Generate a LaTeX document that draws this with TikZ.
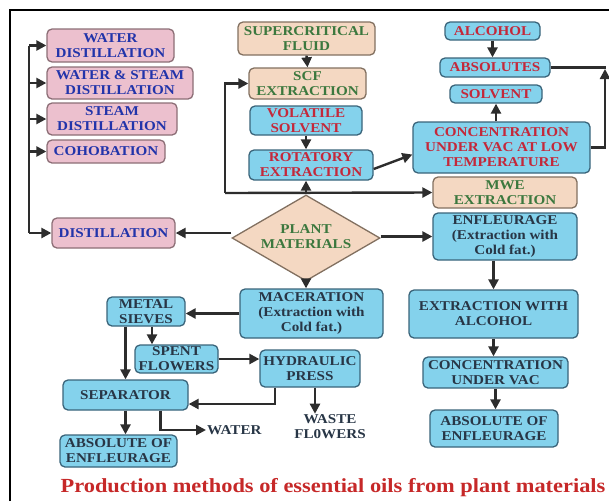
\documentclass[tikz,border=0pt]{standalone}
\usepackage{fontspec}
\setmainfont{Liberation Serif}[FakeStretch=1.12]
\usetikzlibrary{arrows.meta,shapes.geometric}

\definecolor{pinkfill}{RGB}{236,192,206}
\definecolor{pinkline}{RGB}{140,110,118}
\definecolor{bluetext}{RGB}{34,52,170}
\definecolor{tanfill}{RGB}{244,216,194}
\definecolor{tanline}{RGB}{130,112,96}
\definecolor{greentext}{RGB}{60,120,62}
\definecolor{cyanfill}{RGB}{132,210,236}
\definecolor{cyanline}{RGB}{58,100,122}
\definecolor{redtext}{RGB}{196,40,58}
\definecolor{darktext}{RGB}{40,54,70}
\definecolor{capred}{RGB}{198,40,40}
\definecolor{linegray}{RGB}{45,45,45}

\tikzset{
  box/.style={rectangle, rounded corners=5pt, line width=1.3pt, align=center,
    inner sep=1pt, font=\bfseries\fontsize{13.5}{15}\selectfont},
  pinkbox/.style={box, fill=pinkfill, draw=pinkline, text=bluetext},
  tanbox/.style={box, fill=tanfill, draw=tanline, text=greentext},
  redbox/.style={box, fill=cyanfill, draw=cyanline, text=redtext},
  bluebox/.style={box, fill=cyanfill, draw=cyanline, text=darktext},
  plaintext/.style={align=center, inner sep=1pt, text=darktext,
    font=\bfseries\fontsize{13.5}{15}\selectfont},
  ln/.style={line width=2.4pt, draw=linegray},
  arr/.style={ln, -{Triangle[length=10pt,width=10pt]}}
}

\begin{document}
\begin{tikzpicture}[x=1pt,y=-1pt]
	\useasboundingbox (0,0) rectangle (609,501);
	\draw [line width=2pt] (10,501) -- (10,10) -- (609,10);
	
	% distillation side
	\node [pinkbox, minimum width=127pt, minimum height=33pt] (wdist) at (110.5,45.5) {WATER\\DISTILLATION};
	\node [pinkbox, minimum width=146pt, minimum height=32pt] (wsdist) at (120,83) {WATER \& STEAM\\DISTILLATION};
	\node [pinkbox, minimum width=130pt, minimum height=32pt] (sdist) at (112,119) {STEAM\\DISTILLATION};
	\node [pinkbox, minimum width=118pt, minimum height=23pt] (cohob) at (106,151.5) {COHOBATION};
	\node [pinkbox, minimum width=123pt, minimum height=30pt] (dist) at (113.5,233) {DISTILLATION};
	
	% centre column
	\node [tanbox, minimum width=137pt, minimum height=33pt] (scfluid) at (306.5,38.5) {SUPERCRITICAL\\FLUID};
	\node [tanbox, minimum width=117pt, minimum height=31pt] (scfext) at (307.5,83.5) {SCF\\EXTRACTION};
	\node [redbox, minimum width=112pt, minimum height=29pt] (volsolv) at (306,120.5) {VOLATILE\\SOLVENT};
	\node [redbox, minimum width=124pt, minimum height=30pt] (rotat) at (311,165) {ROTATORY\\EXTRACTION};
	\node [diamond, fill=tanfill, draw=tanline, line width=1.3pt, inner sep=0pt,
		minimum width=148pt, minimum height=86pt] (plant) at (306,238) {};
	\node [plaintext, text=greentext] (plantlbl) at (306,237) {PLANT\\MATERIALS};
	
	% right column
	\node [redbox, minimum width=95pt, minimum height=18pt] (alcohol) at (492.5,31) {ALCOHOL};
	\node [redbox, minimum width=110pt, minimum height=19pt] (absol) at (495,67.5) {ABSOLUTES};
	\node [redbox, minimum width=92pt, minimum height=18pt] (solvent) at (496,94) {SOLVENT};
	\node [redbox, minimum width=177pt, minimum height=51pt] (conc) at (501.5,147.5) {CONCENTRATION\\UNDER VAC AT LOW\\TEMPERATURE};
	\node [tanbox, minimum width=144pt, minimum height=31pt] (mwe) at (505,192.5) {MWE\\EXTRACTION};
	\node [bluebox, minimum width=144pt, minimum height=47pt] (enfl) at (505,236.5) {ENFLEURAGE\\(Extraction with\\Cold fat.)};
	\node [bluebox, minimum width=169pt, minimum height=48pt] (extalc) at (493.5,314) {EXTRACTION WITH\\ALCOHOL};
	\node [bluebox, minimum width=145pt, minimum height=31pt] (concvac) at (495.5,372.5) {CONCENTRATION\\UNDER VAC};
	\node [bluebox, minimum width=128pt, minimum height=37pt] (absright) at (494,428.5) {ABSOLUTE OF\\ENFLEURAGE};
	
	% maceration branch
	\node [bluebox, minimum width=143pt, minimum height=49pt] (macer) at (311.5,313.5) {MACERATION\\(Extraction with\\Cold fat.)};
	\node [bluebox, minimum width=78pt, minimum height=29pt] (sieves) at (146,311.5) {METAL\\SIEVES};
	\node [bluebox, minimum width=83pt, minimum height=28pt] (spent) at (176.5,359) {SPENT\\FLOWERS};
	\node [bluebox, minimum width=100pt, minimum height=37pt] (hydra) at (310,368.5) {HYDRAULIC\\PRESS};
	\node [bluebox, minimum width=125pt, minimum height=30pt] (separ) at (125.5,395) {SEPARATOR};
	\node [bluebox, minimum width=117pt, minimum height=32pt] (absleft) at (118.5,451) {ABSOLUTE OF\\ENFLEURAGE};
	\node [plaintext, anchor=west] (water) at (206,430) {WATER};
	\node [plaintext] (waste) at (330,427) {WASTE\\FL0WERS};
	
	\node [text=capred, inner sep=0pt, font=\bfseries\fontsize{20}{22}\selectfont] (caption) at (333,488)
		{Production methods of essential oils from plant materials};
	
	% left bus
	\coordinate (bus) at (29,0);
	\draw [ln] (bus |- wdist.west) -- (bus |- dist.west);
	\foreach \n in {wdist,wsdist,sdist,cohob,dist}
		\draw [arr] (bus |- \n.west) -- (\n.west);
	\draw [arr] (dist.east -| plant.west) -- (dist.east);
	
	% extraction lines
	\coordinate (lbend) at (225,193);
	\draw [arr] (lbend) |- (scfext.west);
	\draw [arr] (lbend) -- (mwe.west);
	\draw [arr] (scfluid.south) -- (scfext.north);
	\draw [arr] (volsolv.south) -- (volsolv.south |- rotat.north);
	\draw [arr] (plant.north) -- (plant.north |- rotat.south);
	\draw [arr] ([yshift=-4pt]rotat.east) -- ([yshift=-7pt]conc.west);
	\draw [arr] (alcohol.south) -- (alcohol.south |- absol.north);
	\draw [arr] (conc.north -| solvent.south) -- (solvent.south);
	\coordinate (rbend) at (605,69);
	\draw [arr] (conc.east) -| (rbend);
	\draw [ln] (absol.east) -| (rbend);
	\draw [arr] (plant.east |- enfl.west) -- (enfl.west);
	\draw [arr] (enfl.south -| extalc.north) -- (extalc.north);
	\draw [arr] (extalc.south) -- (extalc.south |- concvac.north);
	\draw [arr] (concvac.south) -- (concvac.south |- absright.north);
	
	% maceration lines
	\draw [arr] (plant.south) -- (plant.south |- macer.north);
	\draw [arr] (macer.west) -- (macer.west -| sieves.east);
	\draw [arr] ([xshift=6pt]sieves.south) -- ([xshift=6pt]sieves.south |- spent.north);
	\draw [arr] (sieves.south -| separ.north) -- (separ.north);
	\draw [arr] (spent.east) -- (spent.east -| hydra.west);
	\draw [arr] ([xshift=-35pt]hydra.south) |- ([yshift=-9pt]separ.east);
	\draw [arr] ([xshift=5pt]hydra.south) -- ([xshift=5pt]hydra.south |- waste.north);
	\draw [arr] ([xshift=35pt]separ.south) |- (water.west);
	\draw [arr] (separ.south) -- (separ.south |- absleft.north);
\end{tikzpicture}
\end{document}
